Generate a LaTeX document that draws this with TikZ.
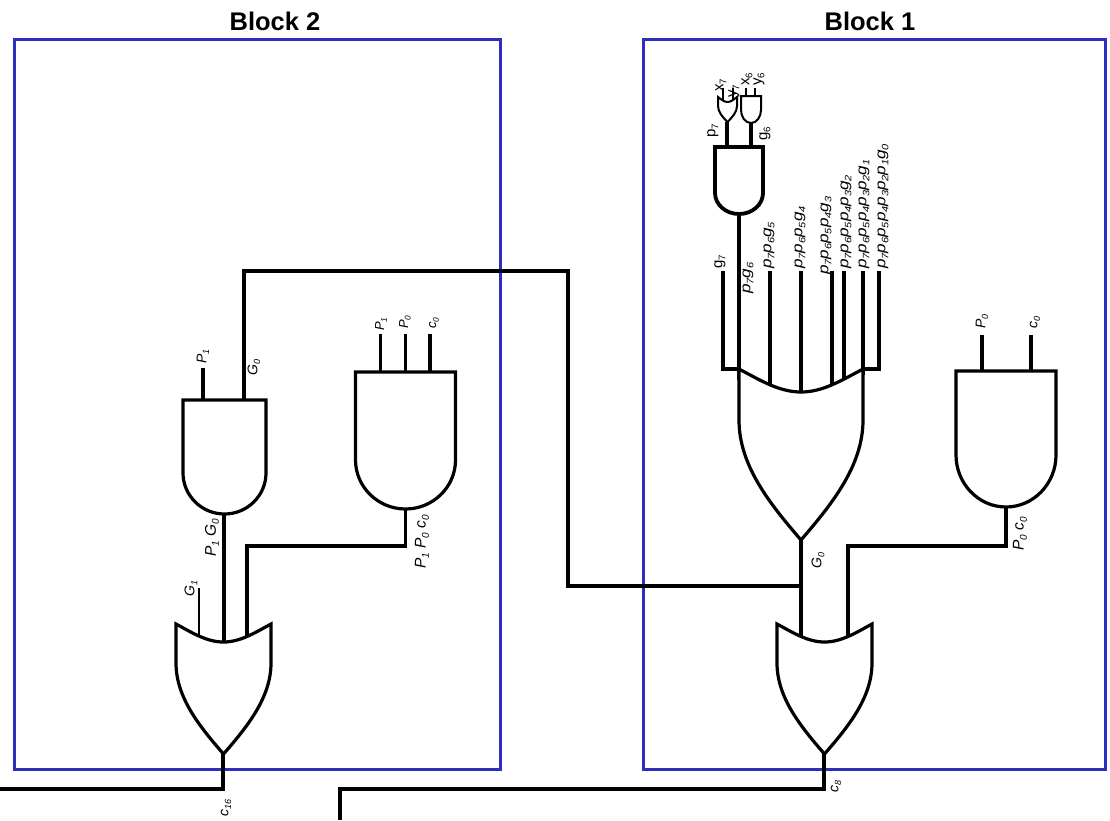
\documentclass[tikz,border=0pt]{standalone}
\usepackage{fontspec}
\usepackage{graphicx}
\setmainfont{Liberation Sans}
\newcommand{\sbx}[1]{\raisebox{-0.2em}{\fontsize{0.64em}{0.64em}\selectfont #1}}
\newcommand{\stw}[1]{\scalebox{1.18}[1]{#1}}
% \andgate{name}{left}{right}{top}{straight-end}{bottom}
\newcommand{\andgate}[6]{%
  \pgfmathsetmacro{\cxx}{(#2+#3)/2}%
  \pgfmathsetmacro{\kl}{#2+0.45*(\cxx-#2)}%
  \pgfmathsetmacro{\kr}{#3-0.45*(\cxx-#2)}%
  \pgfmathsetmacro{\ky}{#5+0.55*(#6-#5)}%
  \draw[gate] (#2,#4) -- (#2,#5) .. controls (#2,\ky) and (\kl,#6) .. (\cxx,#6)
     .. controls (\kr,#6) and (#3,\ky) .. (#3,#5) -- (#3,#4) -- cycle;
  \coordinate (#1-out) at (\cxx,#6);
  \coordinate (#1-top) at (\cxx,#4);}
% \orgate{name}{left}{right}{tips}{dip}{straight-end}{tip-y}
\newcommand{\orgate}[7]{%
  \pgfmathsetmacro{\cxx}{(#2+#3)/2}%
  \pgfmathsetmacro{\hw}{(#3-#2)/2}%
  \pgfmathsetmacro{\dq}{#4+0.5*(#5-#4)}%
  \pgfmathsetmacro{\qa}{#2+0.35*\hw}%
  \pgfmathsetmacro{\qb}{#3-0.35*\hw}%
  \pgfmathsetmacro{\qc}{\cxx-0.35*\hw}%
  \pgfmathsetmacro{\qd}{\cxx+0.35*\hw}%
  \pgfmathsetmacro{\ya}{#6+0.38*(#7-#6)}%
  \pgfmathsetmacro{\yb}{#7-0.30*(#7-#6)}%
  \pgfmathsetmacro{\xa}{#2+0.50*\hw}%
  \pgfmathsetmacro{\xb}{#3-0.50*\hw}%
  \draw[gate] (#2,#4) .. controls (\qa,\dq) and (\qc,#5) .. (\cxx,#5)
     .. controls (\qd,#5) and (\qb,\dq) .. (#3,#4) -- (#3,#6)
     .. controls (#3,\ya) and (\xb,\yb) .. (\cxx,#7)
     .. controls (\xa,\yb) and (#2,\ya) .. (#2,#6) -- cycle;
  \coordinate (#1-out) at (\cxx,#7);}
\tikzset{
  wire/.style={draw=black,line width=3.2pt,line cap=butt,line join=miter},
  thinwire/.style={draw=black,line width=2pt},
  gate/.style={draw=black,fill=white,line width=3.2pt,line join=miter},
  frame/.style={draw=blockblue,line width=3pt},
  title/.style={font=\fontsize{25.5}{27}\selectfont\bfseries,inner sep=0pt},
  lbl/.style={font=\fontsize{14.5}{15}\selectfont\itshape,rotate=90,anchor=west,inner sep=0pt},
  lblp/.style={font=\fontsize{15.5}{16}\selectfont\itshape,rotate=90,anchor=west,inner sep=0pt},
  lbls/.style={font=\fontsize{14}{14}\selectfont\itshape,rotate=90,anchor=west,inner sep=0pt},
  lblt/.style={font=\fontsize{13}{13}\selectfont\itshape,rotate=90,anchor=west,inner sep=0pt},
  lblup/.style={font=\fontsize{15}{15}\selectfont,rotate=90,anchor=west,inner sep=0pt},
}
\definecolor{blockblue}{HTML}{2F2FBF}
\begin{document}
\begin{tikzpicture}[x=1pt,y=-1pt]
\useasboundingbox (0,0) rectangle (1110,820);
% frames
\node[title] (t2) at (275,21) {Block 2};
\node[title] (t1) at (870,21) {Block 1};
\draw[frame] (14,39) rectangle (500,769);
\draw[frame] (643,39) rectangle (1105,769);

% connector end points
\coordinate (b2g0in) at (244,400);
\coordinate (g0a) at (244,271);
\coordinate (g0b) at (568,271);
\coordinate (g0c) at (568,586);
\coordinate (g0d) at (801,586);
\coordinate (bigOut) at (801,540);
\coordinate (or1in1) at (801,640);
\coordinate (or1in2) at (848,640);
\coordinate (b1Bend) at (848,546);
\coordinate (b1Andout) at (1006,507);
\coordinate (b1Bend2) at (1006,546);
\coordinate (or1out) at (824,754);
\coordinate (c8a) at (824,789);
\coordinate (c8b) at (340,789);
\coordinate (c8c) at (340,820);
\coordinate (or2out) at (223,754);
\coordinate (c16a) at (223,789);
\coordinate (c16b) at (0,789);
\coordinate (orIn1) at (199,588);
\coordinate (orIn1e) at (199,640);
\coordinate (and2out) at (224,514);
\coordinate (orIn2e) at (224,642);
\coordinate (orIn3e) at (247,640);
\coordinate (orIn3b) at (247,546);
\coordinate (and3b) at (405.5,546);
\coordinate (and3out) at (405.5,509);

% wires
\draw[wire] (b2g0in) -- (g0a) -- (g0b) -- (g0c) -- (g0d);
\draw[wire] (bigOut) -- (or1in1);
\draw[wire] (or1in2) -- (b1Bend) -- (b1Bend2) -- (b1Andout);
\draw[wire] (or1out) -- (c8a) -- (c8b) -- (c8c);
\draw[wire] (or2out) -- (c16a) -- (c16b);
\draw[wire,line width=2.6pt] (orIn1) -- (orIn1e);
\draw[wire] (and2out) -- (orIn2e);
\draw[wire] (orIn3e) -- (orIn3b) -- (and3b) -- (and3out);

% inputs
\foreach \nm/\x/\y/\e in {p1a/203/368/400, p1b/380.5/334/372, p0b/405.5/334/372, c0b/430/334/372,
   p0r/982/335/371, c0r/1031/335/371,
   i2/770/271/392, i3/801/271/392, i4/832/271/392, i5/844/271/392, i6/863/271/375}{
  \coordinate (\nm s) at (\x,\y);
  \coordinate (\nm e) at (\x,\e);
  \draw[wire] (\nm s) -- (\nm e);
}
% outer stubs on the big OR
\coordinate (g7s) at (723,271);
\coordinate (g7b) at (723,369);
\coordinate (g7e) at (739,369);
\coordinate (i7s) at (879,271);
\coordinate (i7b) at (879,369);
\coordinate (i7e) at (863,369);
\draw[wire] (g7s) -- (g7b) -- (g7e);
\draw[wire] (i7s) -- (i7b) -- (i7e);
% p7g6 through to the big OR
\coordinate (p7g6a) at (739,214);
\coordinate (p7g6b) at (739,380);
\draw[wire] (p7g6a) -- (p7g6b);

% small-gate wiring
\coordinate (sOr) at (727,122);
\coordinate (sOre) at (727,147);
\coordinate (sAnd) at (751,123);
\coordinate (sAnde) at (751,147);
\draw[wire] (sOr) -- (sOre);
\draw[wire] (sAnd) -- (sAnde);
\foreach \nm/\x/\y/\e in {x7/723/88/102, y7/733/88/102, x6/746/88/97, y6/755/88/97}{
  \coordinate (\nm s) at (\x,\y);
  \coordinate (\nm e) at (\x,\e);
  \draw[thinwire] (\nm s) -- (\nm e);
}

% gates
\andgate{a2}{183}{266}{400}{473}{514}
\andgate{a3}{355.5}{455.5}{372}{460}{509}
\andgate{a4}{956}{1056}{371}{455}{507}
\orgate{o2}{176}{271}{624}{642}{663}{754}
\orgate{o1}{777}{872}{624}{642}{663}{754}
\orgate{big}{739}{863}{369}{392}{420}{540}
\begin{scope}[gate/.append style={line width=3.8pt}]
\andgate{a5}{715}{763}{147}{193}{214}
\end{scope}
\begin{scope}[gate/.append style={line width=2pt}]
\orgate{so}{718}{737}{97}{102}{106}{122}
\andgate{sa}{741}{761}{96}{110}{123}
\end{scope}

% labels, block 2
\node[lbls] (lP1a) at (203,364) {P\sbx{1}};
\node[lbls] (lG0) at (254,376) {G\sbx{0}};
\node[lblt] (lP1b) at (381,331) {P\sbx{1}};
\node[lblt] (lP0b) at (405,329) {P\sbx{0}};
\node[lblt] (lc0b) at (434,329) {c\sbx{0}};
\node[lblp] (lP1G0) at (212,557) {P\sbx{1} G\sbx{0}};
\node[lblp] (lP1P0) at (422,569) {P\sbx{1} P\sbx{0} c\sbx{0}};
\node[lbls] (lG1) at (191,597) {G\sbx{1}};
\node[lbls] (lc16) at (226,817) {c\sbx{16}};
% labels, block 1
\node[lbls] (lP0r) at (982,329) {P\sbx{0}};
\node[lbls] (lc0r) at (1035,329) {c\sbx{0}};
\node[lblp] (lP0c0) at (1020,551) {P\sbx{0} c\sbx{0}};
\node[lbls] (lG0r) at (818,569) {G\sbx{0}};
\node[lbls] (lc8) at (836,793) {c\sbx{8}};
\node[lblup] (lx7) at (721,92) {x\sbx{7}};
\node[lblup] (ly7) at (734,98) {y\sbx{7}};
\node[lblup] (lx6) at (747,86) {x\sbx{6}};
\node[lblup] (ly6) at (759,86) {y\sbx{6}};
\node[lblup] (lp7) at (713,138) {p\sbx{7}};
\node[lblup] (lg6) at (765,141) {g\sbx{6}};
\node[lblup] (lg7) at (720,269) {g\sbx{7}};
\node[lbl] (lp7g6) at (748,294) {\stw{p\sbx{7}g\sbx{6}}};
\node[lbl] (lg5) at (769,269) {\stw{p\sbx{7}p\sbx{6}g\sbx{5}}};
\node[lbl] (lg4) at (800,269) {\stw{p\sbx{7}p\sbx{6}p\sbx{5}g\sbx{4}}};
\node[lbl] (lg3) at (826,275) {\stw{p\sbx{7}p\sbx{6}p\sbx{5}p\sbx{4}g\sbx{3}}};
\node[lbl] (lg2) at (846,269) {\stw{p\sbx{7}p\sbx{6}p\sbx{5}p\sbx{4}p\sbx{3}g\sbx{2}}};
\node[lbl] (lg1) at (864,269) {\stw{p\sbx{7}p\sbx{6}p\sbx{5}p\sbx{4}p\sbx{3}p\sbx{2}g\sbx{1}}};
\node[lbl] (lg0) at (883,269) {\stw{p\sbx{7}p\sbx{6}p\sbx{5}p\sbx{4}p\sbx{3}p\sbx{2}p\sbx{1}g\sbx{0}}};
\end{tikzpicture}
\end{document}
